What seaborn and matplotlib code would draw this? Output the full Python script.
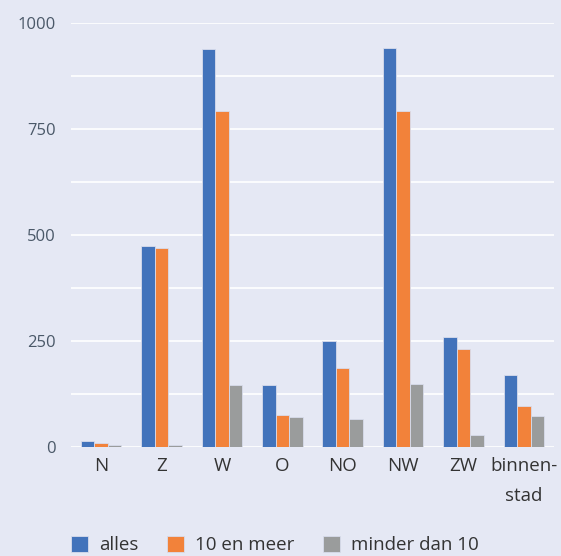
import numpy as np
import pandas as pd
import matplotlib
matplotlib.use("Agg")
import matplotlib.pyplot as plt
import seaborn as sns

# ---- data ----
wijken = ["N", "Z", "W", "O", "NO", "NW", "ZW", "binnen-\nstad"]
alles = [14, 474, 940, 146, 250, 942, 258, 169]
tien_en_meer = [9, 470, 793, 74, 185, 793, 230, 95]
minder_dan_10 = [5, 5, 146, 70, 65, 147, 28, 72]
series = ["alles", "10 en meer", "minder dan 10"]
kleuren = ["#4273BB", "#F2823A", "#9A9C9C"]
yticks = [0, 250, 500, 750, 1000]

df = pd.DataFrame({"wijk": wijken * 3,
                   "reeks": [series[0]] * 8 + [series[1]] * 8 + [series[2]] * 8,
                   "aantal": alles + tien_en_meer + minder_dan_10})

bg = "#E5E8F4"
sns.set_theme(style="white")
plt.rcParams["font.family"] = ["Open Sans", "DejaVu Sans"]

fig = plt.figure(figsize=(5.61, 5.56), dpi=100, facecolor=bg)
ax = fig.add_axes([0.1266, 0.1966, 0.8609, 0.7615], facecolor=bg)

sns.barplot(data=df, x="wijk", y="aantal", hue="reeks", palette=kleuren,
            width=0.67, gap=0, saturation=1, ax=ax, legend=True,
            linewidth=0.6, edgecolor="#D8DCEC")

ax.set_ylim(0, 1000)
ax.set_xlim(-0.5, 7.5)
ax.set_yticks(yticks)
ax.set_yticklabels([str(t) for t in yticks], fontsize=12, color="#4A5868")
ax.tick_params(axis="y", length=0, pad=11)
ax.tick_params(axis="x", length=0, pad=7.5, labelsize=13.5, labelcolor="#333333")
for lbl in ax.get_xticklabels():
    lbl.set_verticalalignment("top")
    lbl.set_linespacing(1.85)
ax.set_xlabel("")
ax.set_ylabel("")
for y in [0, 125, 250, 375, 500, 625, 750, 875, 1000]:
    ax.axhline(y, color="white", lw=1.2, zorder=0)
ax.set_axisbelow(True)
for s in ax.spines.values():
    s.set_visible(False)

handles, labels = ax.get_legend_handles_labels()
ax.get_legend().remove()
fig.legend(handles, labels, loc="center left", bbox_to_anchor=(0.096, 0.02),
           ncol=3, frameon=False, fontsize=13.5, handlelength=0.92,
           handleheight=0.92, handletextpad=0.6, columnspacing=1.5,
           labelcolor="#333333")

fig.savefig("out.png", dpi=100, facecolor=bg)
